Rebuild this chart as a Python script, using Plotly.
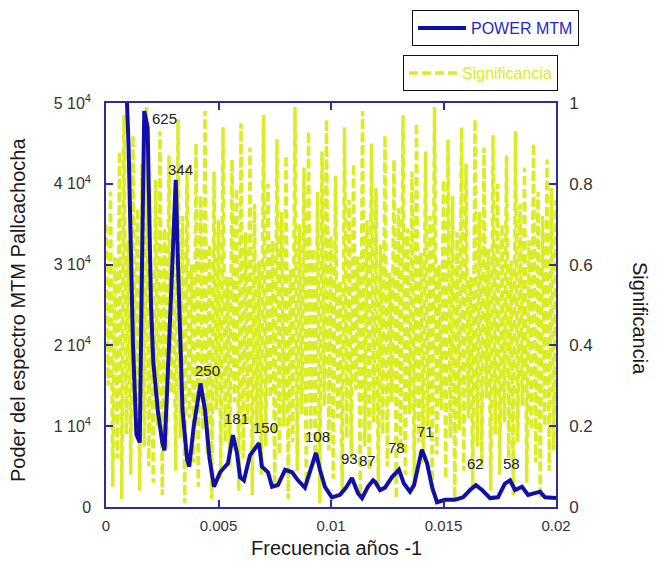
import plotly.graph_objects as go

# ---------------- data ----------------
power_freq = [0.0, 0.0006, 0.0010, 0.00105, 0.0012, 0.00135, 0.0015, 0.0016, 0.0017, 0.00185,
              0.0019, 0.0020, 0.0021, 0.0023, 0.0025, 0.0026, 0.0028, 0.0031, 0.0032, 0.0034,
              0.0036, 0.0037, 0.0039, 0.0042, 0.0044, 0.0046, 0.0048, 0.00507, 0.00542, 0.00564,
              0.00582, 0.00596, 0.00613, 0.0064, 0.0068, 0.00693, 0.0072, 0.00738, 0.00764, 0.00796,
              0.00827, 0.00853, 0.00884, 0.00907, 0.00933, 0.00951, 0.00973, 0.01004, 0.0104, 0.01067,
              0.01093, 0.0112, 0.01138, 0.01164, 0.01187, 0.01196, 0.01218, 0.0124, 0.01271, 0.01302,
              0.01324, 0.01351, 0.01369, 0.01387, 0.01404, 0.01427, 0.01449, 0.01471, 0.01507, 0.01551,
              0.01587, 0.01618, 0.01644, 0.01671, 0.01707, 0.01742, 0.01773, 0.01796, 0.01818, 0.01849,
              0.01876, 0.01929, 0.01951, 0.02]
power_mtm = [90000, 75000, 45000, 39000, 20000, 9000, 8000, 30000, 49000, 47000,
             40000, 25000, 18000, 12000, 8000, 7000, 20000, 40500, 30000, 12000,
             6000, 5000, 10000, 15300, 12000, 6000, 2500, 4300, 5400, 8900,
             6700, 3700, 3300, 6400, 7900, 5000, 4300, 2500, 2700, 4600,
             4300, 3300, 2400, 4300, 6700, 4600, 2500, 1200, 1500, 2400,
             3600, 1700, 1100, 2500, 3300, 3100, 2100, 2400, 3700, 4600,
             2900, 1900, 2700, 5000, 7100, 5400, 2500, 600, 900, 900,
             1200, 2100, 2700, 2100, 1100, 1200, 2900, 3300, 2100, 2500,
             1500, 1900, 1200, 1100]

sig_freq = [i * 0.0001 for i in range(201)]
significancia = [
    0.70, 0.30, 0.78, 0.05, 0.62, 0.12, 0.88, 0.02, 0.97, 0.18, 0.66, 0.08, 0.92, 0.25, 0.74, 0.04, 0.85, 0.15, 0.99, 0.10,
    0.58, 0.06, 0.81, 0.20, 0.93, 0.03, 0.69, 0.14, 0.87, 0.28, 0.63, 0.09, 0.96, 0.17, 0.72, 0.01, 0.84, 0.22, 0.60, 0.11,
    0.90, 0.05, 0.77, 0.19, 0.98, 0.13, 0.65, 0.02, 0.83, 0.24, 0.71, 0.07, 0.94, 0.16, 0.57, 0.10, 0.86, 0.26, 0.79, 0.04,
    0.95, 0.12, 0.68, 0.21, 0.89, 0.03, 0.75, 0.18, 0.61, 0.08, 0.97, 0.15, 0.80, 0.27, 0.66, 0.05, 0.91, 0.13, 0.73, 0.20,
    0.87, 0.02, 0.59, 0.16, 0.99, 0.09, 0.70, 0.23, 0.84, 0.06, 0.93, 0.19, 0.64, 0.11, 0.78, 0.01, 0.88, 0.25, 0.96, 0.14,
    0.67, 0.07, 0.82, 0.22, 0.56, 0.04, 0.94, 0.17, 0.76, 0.12, 0.85, 0.29, 0.62, 0.03, 0.98, 0.15, 0.71, 0.09, 0.90, 0.21,
    0.79, 0.05, 0.65, 0.18, 0.92, 0.10, 0.58, 0.26, 0.86, 0.02, 0.74, 0.14, 0.97, 0.08, 0.69, 0.23, 0.83, 0.06, 0.95, 0.16,
    0.63, 0.11, 0.88, 0.20, 0.72, 0.03, 0.99, 0.13, 0.60, 0.24, 0.81, 0.07, 0.91, 0.17, 0.77, 0.02, 0.68, 0.19, 0.94, 0.09,
    0.85, 0.22, 0.57, 0.05, 0.96, 0.15, 0.73, 0.10, 0.89, 0.27, 0.64, 0.04, 0.92, 0.18, 0.80, 0.08, 0.70, 0.21, 0.87, 0.12,
    0.61, 0.03, 0.93, 0.16, 0.75, 0.25, 0.84, 0.06, 0.66, 0.19, 0.90, 0.11, 0.78, 0.02, 0.72, 0.20, 0.86, 0.09, 0.79, 0.14, 0.76,
]

peak_labels = ["625", "344", "250", "181", "150", "108", "93", "87", "78", "71", "62", "58"]
peak_label_freq = [0.00262, 0.00329, 0.00453, 0.00582, 0.00707, 0.00942, 0.01084, 0.01164, 0.01289, 0.01422, 0.0164, 0.01804]
peak_label_power = [48100, 41800, 16950, 11000, 9800, 8700, 6060, 5800, 7400, 9300, 5400, 5400]

x_tickvals = [0, 0.005, 0.01, 0.015, 0.02]
x_ticktext = ["0", "0.005", "0.01", "0.015", "0.02"]
power_tickvals = [0, 10000, 20000, 30000, 40000, 50000]
power_ticktext = ["0", "1 10<sup>4</sup>", "2 10<sup>4</sup>", "3 10<sup>4</sup>", "4 10<sup>4</sup>", "5 10<sup>4</sup>"]
sig_tickvals = [0, 0.2, 0.4, 0.6, 0.8, 1]
sig_ticktext = ["0", "0.2", "0.4", "0.6", "0.8", "1"]

# ---------------- styles ----------------
FONT = "Arial, Liberation Sans, sans-serif"
AXIS_COLOR = "#2e2e99"
BLUE = "#1010a8"
YELLOW = "#dcec22"

fig = go.Figure()

# significance on the base axis (right side), power on the overlaying axis (left side)
fig.add_trace(go.Scatter(
    x=sig_freq, y=significancia, yaxis="y", mode="lines",
    name="Significancia", legend="legend2",
    line=dict(color=YELLOW, width=3.5, dash="9px,4px"),
))
fig.add_trace(go.Scatter(
    x=power_freq, y=power_mtm, yaxis="y2", mode="lines",
    name="POWER MTM", legend="legend",
    line=dict(color=BLUE, width=4),
))

annotations = []
for t, fx, fy in zip(peak_labels, peak_label_freq, peak_label_power):
    annotations.append(dict(x=fx, y=fy, xref="x", yref="y2", text=t, showarrow=False,
                            xanchor="center", yanchor="middle",
                            font=dict(family=FONT, size=15, color="#222222")))

annotations += [
    dict(text="Poder del espectro MTM Pallcachocha", xref="paper", yref="paper",
         x=-0.1956, y=0.4876, textangle=-90, showarrow=False,
         xanchor="center", yanchor="middle",
         font=dict(family=FONT, size=20, color="#1a1a1a")),
    dict(text="Frecuencia años -1", xref="paper", yref="paper",
         x=0.5133, y=-0.1015, showarrow=False,
         xanchor="center", yanchor="middle",
         font=dict(family=FONT, size=20, color="#1a1a1a")),
    dict(text="Significancia", xref="paper", yref="paper",
         x=1.1867, y=0.4678, textangle=90, showarrow=False,
         xanchor="center", yanchor="middle",
         font=dict(family=FONT, size=20, color="#1a1a1a")),
]

fig.update_layout(
    width=660, height=576,
    margin=dict(l=106, r=104, t=103, b=69, autoexpand=False),
    paper_bgcolor="white", plot_bgcolor="white",
    font=dict(family=FONT, color="#333333"),
    annotations=annotations,
    xaxis=dict(
        range=[0, 0.02], tickvals=x_tickvals, ticktext=x_ticktext,
        showgrid=False, zeroline=False, showline=True, linecolor=AXIS_COLOR, linewidth=1.5,
        mirror="ticks", ticks="inside", ticklen=7, tickcolor=AXIS_COLOR, tickwidth=1.5,
        ticklabelstandoff=4,
        tickfont=dict(family=FONT, size=15, color="#333333"),
    ),
    yaxis=dict(
        range=[0, 1], tickvals=sig_tickvals, ticktext=sig_ticktext,
        side="right",
        showgrid=False, zeroline=False, showline=True, linecolor=AXIS_COLOR, linewidth=1.5,
        ticks="inside", ticklen=7, tickcolor=AXIS_COLOR, tickwidth=1.5,
        ticklabelstandoff=8,
        tickfont=dict(family=FONT, size=17, color="#333333"),
    ),
    yaxis2=dict(
        range=[0, 50000], tickvals=power_tickvals, ticktext=power_ticktext,
        overlaying="y", side="left",
        showgrid=False, zeroline=False, showline=True, linecolor=AXIS_COLOR, linewidth=1.5,
        ticks="inside", ticklen=7, tickcolor=AXIS_COLOR, tickwidth=1.5,
        ticklabelstandoff=10,
        tickfont=dict(family=FONT, size=16, color="#333333"),
    ),
    legend=dict(
        xref="container", yref="container", x=412 / 660, y=1 - 10 / 576,
        xanchor="left", yanchor="top",
        bgcolor="white", bordercolor="#111111", borderwidth=1,
        font=dict(family=FONT, size=16, color="#2828c0"),
        itemwidth=48,
    ),
    legend2=dict(
        xref="container", yref="container", x=403 / 660, y=1 - 55 / 576,
        xanchor="left", yanchor="top",
        bgcolor="white", bordercolor="#111111", borderwidth=1,
        font=dict(family=FONT, size=16, color=YELLOW),
        itemwidth=48,
    ),
    showlegend=True,
)

fig.write_html("out.html")
